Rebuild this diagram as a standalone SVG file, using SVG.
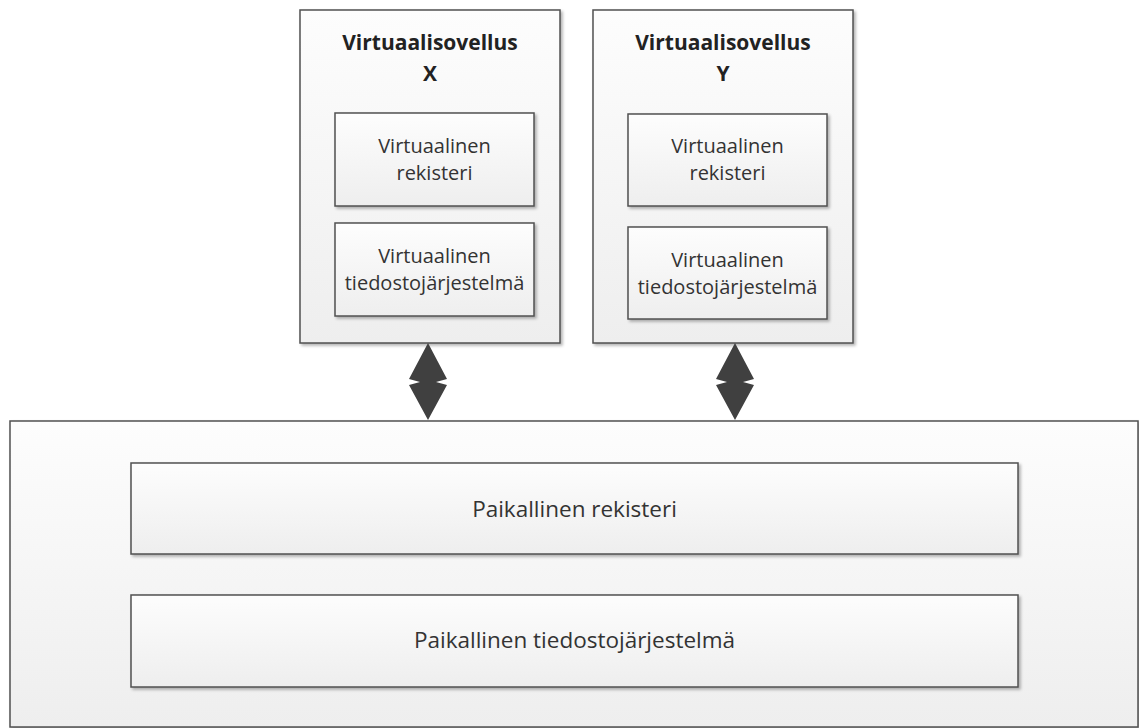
<svg xmlns="http://www.w3.org/2000/svg" width="1139" height="728" viewBox="0 0 1139 728">
<defs>
<linearGradient id="g" x1="0" y1="0" x2="0" y2="1">
<stop offset="0" stop-color="#fdfdfd"/>
<stop offset="1" stop-color="#eeeeee"/>
</linearGradient>
<filter id="sh" x="-5%" y="-5%" width="115%" height="115%">
<feGaussianBlur in="SourceAlpha" stdDeviation="1.5"/>
<feOffset dx="2" dy="2" result="b"/>
<feComponentTransfer><feFuncA type="linear" slope="0.3"/></feComponentTransfer>
<feMerge><feMergeNode/><feMergeNode in="SourceGraphic"/></feMerge>
</filter>
</defs>
<style>
.box{fill:url(#g);stroke:#505050;stroke-width:1.5;filter:url(#sh)}
.t{font-family:"Open Sans","Noto Sans",sans-serif;font-size:20px;fill:#333;text-anchor:middle}
.b{font-size:22.5px}
.h{font-family:"Open Sans","Noto Sans",sans-serif;font-size:21px;font-weight:bold;fill:#222;text-anchor:middle}
.arr{fill:#404040}
</style>
<rect width="1139" height="728" fill="#ffffff"/>
<g id="local">
<rect class="box" x="10" y="421" width="1128" height="306"/>
</g>
<g id="local-registry">
<rect class="box" x="131" y="463" width="887" height="91"/>
<text class="t b" x="574.5" y="517">Paikallinen rekisteri</text>
</g>
<g id="local-fs">
<rect class="box" x="131" y="595" width="887" height="92"/>
<text class="t b" x="574.5" y="648">Paikallinen tiedostojärjestelmä</text>
</g>
<g id="app-x">
<rect class="box" x="300" y="10" width="260" height="333"/>
<text class="h" x="430" y="50">Virtuaalisovellus</text>
<text class="h" x="430" y="81">X</text>
</g>
<g id="app-x-registry">
<rect class="box" x="335" y="113" width="199" height="93"/>
<text class="t" x="434.5" y="153">Virtuaalinen</text>
<text class="t" x="434.5" y="180">rekisteri</text>
</g>
<g id="app-x-fs">
<rect class="box" x="335" y="223" width="199" height="93"/>
<text class="t" x="434.5" y="263">Virtuaalinen</text>
<text class="t" x="434.5" y="290">tiedostojärjestelmä</text>
</g>
<g id="app-y">
<rect class="box" x="593" y="10" width="260" height="333"/>
<text class="h" x="723" y="50">Virtuaalisovellus</text>
<text class="h" x="723" y="81">Y</text>
</g>
<g id="app-y-registry">
<rect class="box" x="628" y="114" width="199" height="92"/>
<text class="t" x="727.5" y="153">Virtuaalinen</text>
<text class="t" x="727.5" y="180">rekisteri</text>
</g>
<g id="app-y-fs">
<rect class="box" x="628" y="227" width="199" height="92"/>
<text class="t" x="727.5" y="267">Virtuaalinen</text>
<text class="t" x="727.5" y="294">tiedostojärjestelmä</text>
</g>
<g id="connectors">
<path class="arr" d="M428,343 L447,379 L436,382 L447,385 L428,420 L409,385 L420,382 L409,379 Z"/>
<path class="arr" d="M735,343 L754,379 L743,382 L754,385 L735,420 L716,385 L727,382 L716,379 Z"/>
</g>
</svg>
